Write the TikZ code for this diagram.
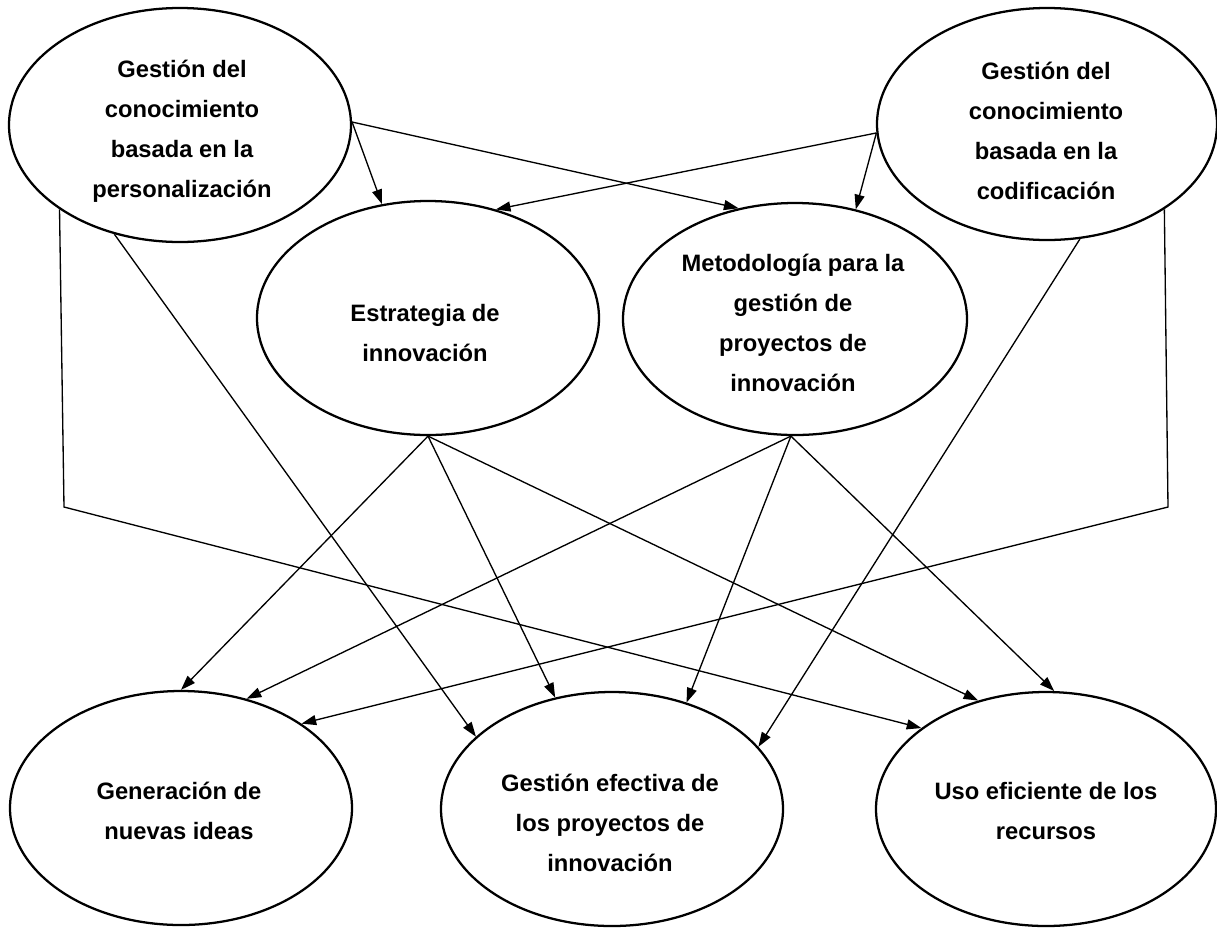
\documentclass[tikz,border=0pt]{standalone}
\usepackage{fontspec}
\setmainfont{Liberation Sans}
\usetikzlibrary{shapes.geometric,arrows.meta}
\begin{document}
\begin{tikzpicture}[x=0.75pt,y=-0.75pt,
  ell/.style={draw, line width=1.7pt, ellipse, inner sep=0pt},
  lbl/.style={align=center, font=\fontsize{17.8}{30}\selectfont\bfseries, inner sep=0pt},
  conn/.style={line width=1pt, -{Triangle[length=11pt,width=7.5pt]}}]
\fill[white] (0,0) rectangle (1217,929);
\useasboundingbox (0,0) rectangle (1217,929);

% ellipses
\node[ell, minimum width=256.5pt, minimum height=175.5pt] (tl) at (180,125) {};
\node[ell, minimum width=255pt, minimum height=174pt] (tr) at (1047,124) {};
\node[ell, minimum width=256.5pt, minimum height=175.5pt] (estr) at (428,318) {};
\node[ell, minimum width=258pt, minimum height=174pt] (met) at (795,319) {};
\node[ell, minimum width=256.5pt, minimum height=175.5pt] (gen) at (181,808) {};
\node[ell, minimum width=256.5pt, minimum height=175.5pt] (gesef) at (612,809) {};
\node[ell, minimum width=255pt, minimum height=175.5pt] (uso) at (1046,809) {};

% texts
\node[lbl] (tlT) at (182,131) {Gestión del\\conocimiento\\basada en la\\personalización};
\node[lbl] (trT) at (1046,131) {Gestión del\\conocimiento\\basada en la\\codificación};
\node[lbl] (estrT) at (425,333) {Estrategia de\\innovación};
\node[lbl] (metT) at (793,323) {Metodología para la\\gestión de\\proyectos de\\innovación};
\node[lbl] (genT) at (179,811) {Generación de\\nuevas ideas};
\node[lbl] (gesefT) at (610,823) {Gestión efectiva de\\los proyectos de\\innovación};
\node[lbl] (usoT) at (1046,811) {Uso eficiente de los\\recursos};

% bends
\coordinate (lbend) at (64,507);
\coordinate (rbend) at (1168,507);

% connectors
\draw[conn] (tl.1) -- (estr.112.5);
\draw[conn] (tl.1) -- (met.117.6);
\draw[conn] (tr.-177.6) -- (estr.58.6);
\draw[conn] (tr.-177.6) -- (met.61.4);
\draw[conn] (tl.-145.6) -- (lbend) -- (uso.147);
\draw[conn] (tr.-36) -- (rbend) -- (gen.35);
\draw[conn] (tl.-121) -- (gesef.152.6);
\draw[conn] (tr.-74.4) -- (gesef.23.9);
\draw[conn] (estr.south) -- (gen.90);
\draw[conn] (estr.south) -- (gesef.117.6);
\draw[conn] (estr.south) -- (uso.122.1);
\draw[conn] (met.-92) -- (gen.59);
\draw[conn] (met.-92) -- (gesef.55.2);
\draw[conn] (met.-92) -- (uso.86);
\end{tikzpicture}
\end{document}
